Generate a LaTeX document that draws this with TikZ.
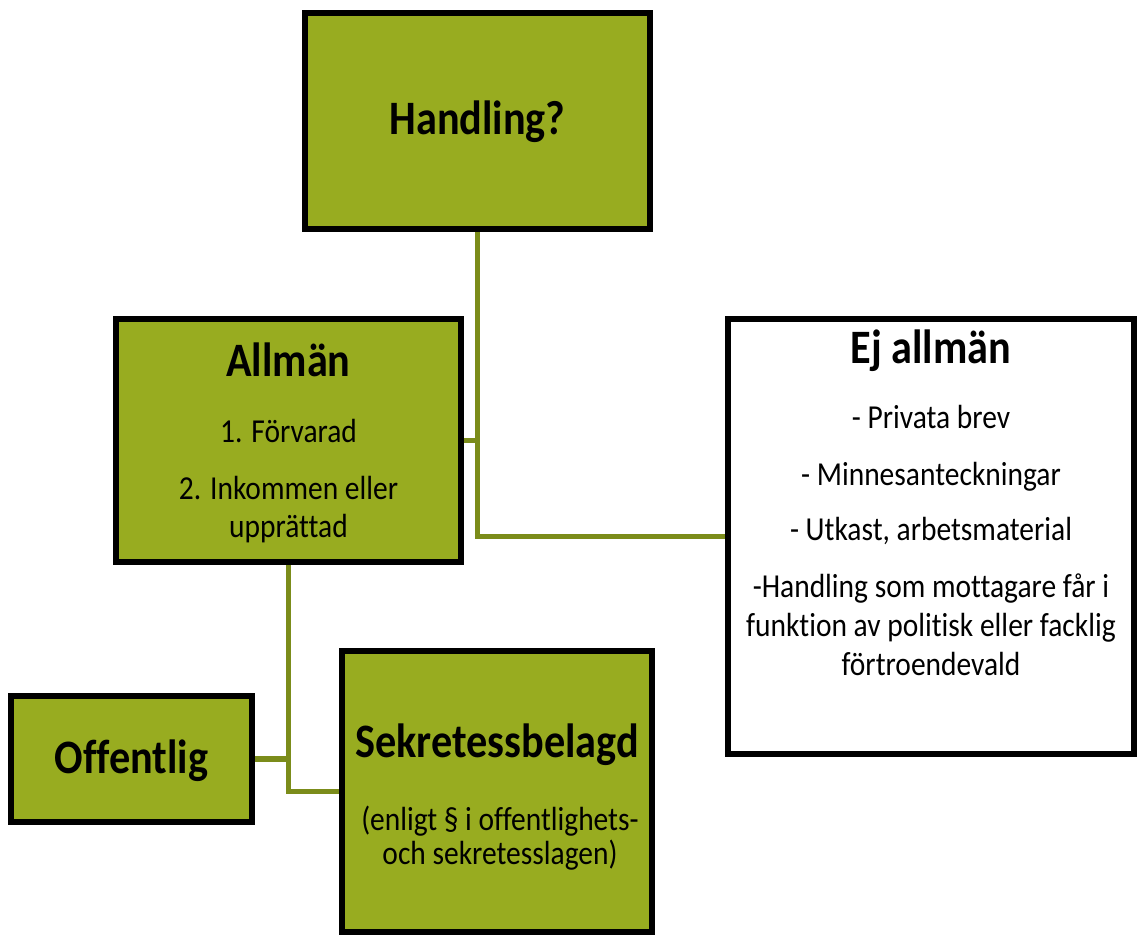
\documentclass[tikz,border=0pt]{standalone}
\usepackage{fontspec}
\setmainfont{Carlito}[FakeStretch=0.88,Ligatures=NoCommon]
\definecolor{boxgreen}{RGB}{152,172,32}
\definecolor{linegreen}{RGB}{123,140,26}
\pgfdeclarelayer{background}
\pgfsetlayers{background,main}
\begin{document}
\begin{tikzpicture}[x=1pt,y=-1pt,
  box/.style={draw=black, line width=6pt, fill=boxgreen, rectangle, inner sep=0pt},
  whitebox/.style={box, fill=white},
  conn/.style={draw=linegreen, line width=5.5pt},
  title/.style={font=\fontsize{48}{56}\selectfont\bfseries, anchor=base, inner sep=0pt},
  body/.style={font=\fontsize{33.5}{40}\selectfont, anchor=base, inner sep=0pt}]
\useasboundingbox (0,0) rectangle (1141,936);

\node[box, minimum width=345pt, minimum height=216pt] (hand) at (477.5,121) {};
\node[box, minimum width=345pt, minimum height=243pt] (all) at (288.5,440.5) {};
\node[whitebox, minimum width=406pt, minimum height=435pt] (ej) at (931,536.5) {};
\node[box, minimum width=241pt, minimum height=126pt] (off) at (131.5,759) {};
\node[box, minimum width=310pt, minimum height=281pt] (sek) at (497,791.5) {};

\node[title] (handT) at (477.5,135) {Handling?};
\node[title] (allT) at (288.5,376) {Allmän};
\node[body] (all1) at (288.5,442) {1. Förvarad};
\node[body] (all2) at (288.5,499) {2. Inkommen eller};
\node[body] (all3) at (288.5,537) {upprättad};

\node[title] (ejT) at (931,363) {Ej allmän};
\node[body] (ej1) at (931,428) {- Privata brev};
\node[body] (ej2) at (931,485) {- Minnesanteckningar};
\node[body] (ej3) at (931,540) {- Utkast, arbetsmaterial};
\node[body] (ej4) at (931,597) {-Handling som mottagare får i};
\node[body] (ej5) at (931,636) {funktion av politisk eller facklig};
\node[body] (ej6) at (931,675) {förtroendevald};

\node[title] (offT) at (131.5,773) {Offentlig};
\node[title] (sekT) at (497,757) {Sekretessbelagd};
\node[body] (sek1) at (500,830) {(enligt § i offentlighets-};
\node[body] (sek2) at (500,864) {och sekretesslagen)};

\begin{pgfonlayer}{background}
\fill[white] (0,0) rectangle (1141,936);
\draw[conn] (hand.south) |- (ej.west);
\draw[conn] (all.east) -- (all.east -| hand.south);
\draw[conn] (all.south) |- (sek.west);
\draw[conn] (off.east) -- (off.east -| all.south);
\end{pgfonlayer}
\end{tikzpicture}
\end{document}
